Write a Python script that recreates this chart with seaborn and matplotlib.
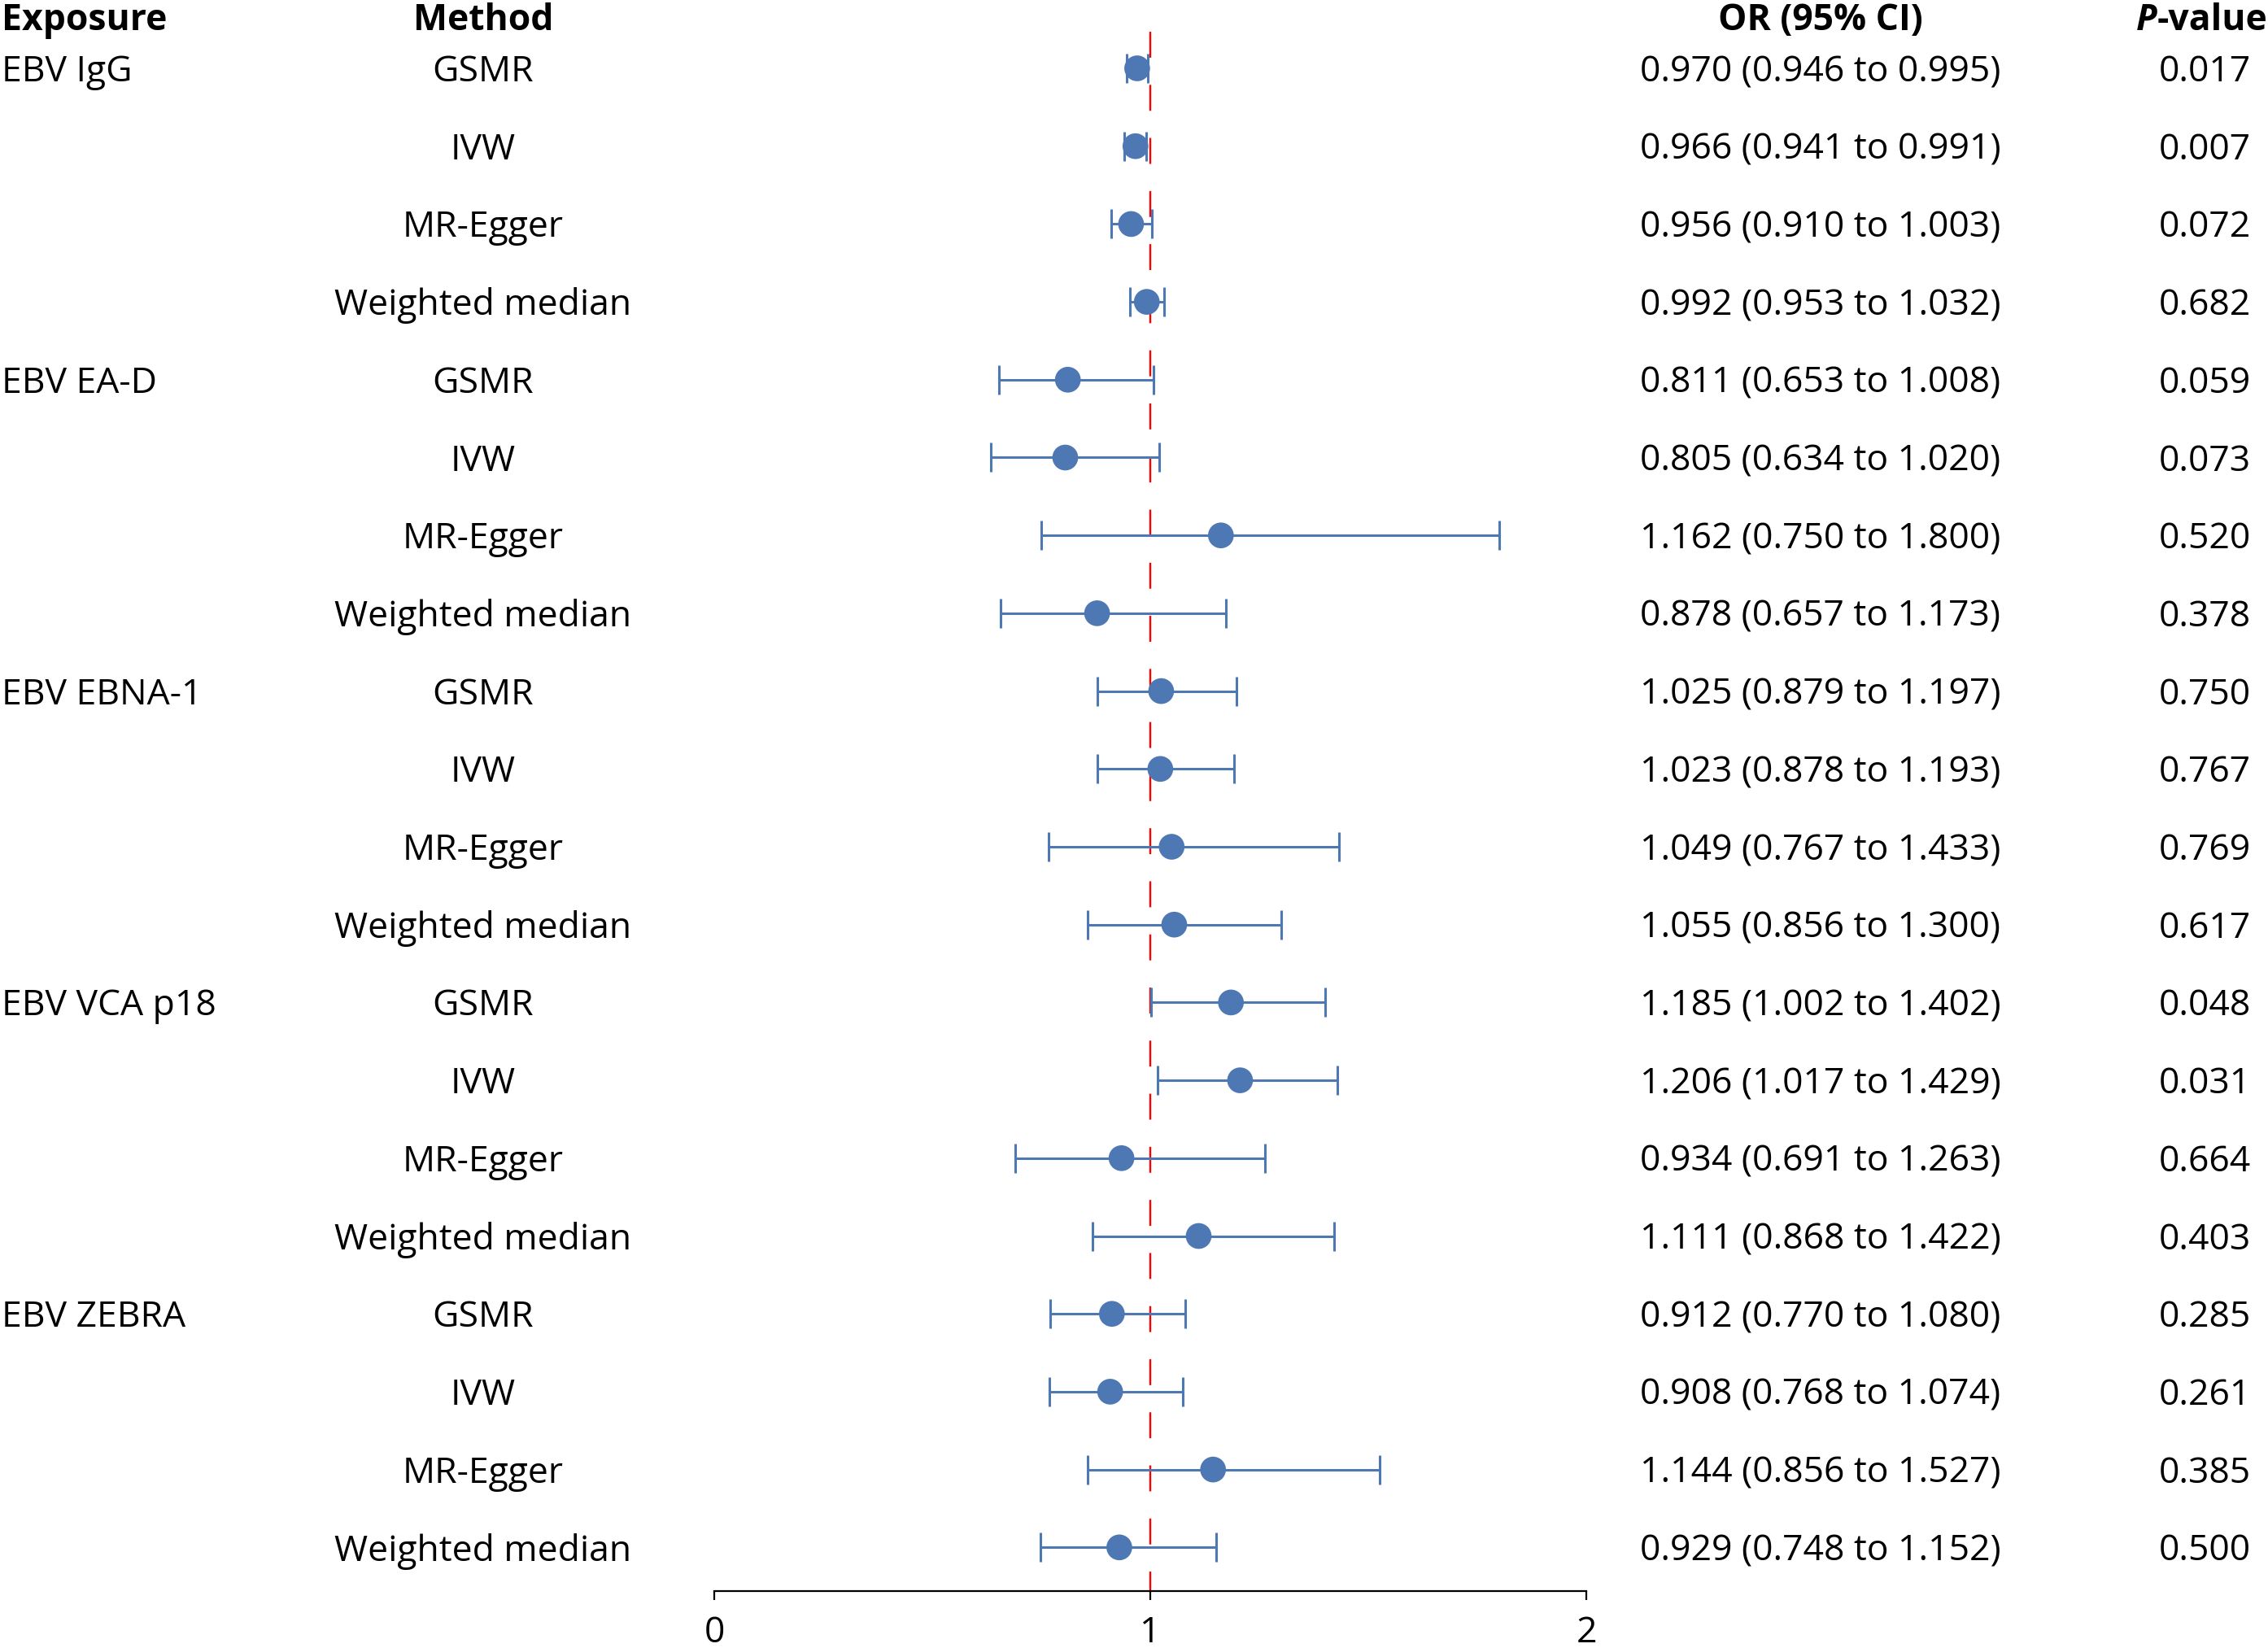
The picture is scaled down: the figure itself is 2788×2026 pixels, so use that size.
"""
Forest plot: EBV antibody exposures, four MR methods, OR (95% CI) and P-values.
"""
import numpy as np
import pandas as pd
import matplotlib
matplotlib.use("Agg")
import matplotlib.pyplot as plt
from matplotlib.transforms import blended_transform_factory
import seaborn as sns

# ──────────────────────────────── 0. Data ──────────────────────────────── #
exposures = ["EBV IgG", "EBV EA-D", "EBV EBNA-1", "EBV VCA p18", "EBV ZEBRA"]
methods   = ["GSMR", "IVW", "MR-Egger", "Weighted median"]

or_vals = [0.970, 0.966, 0.956, 0.992,
           0.811, 0.805, 1.162, 0.878,
           1.025, 1.023, 1.049, 1.055,
           1.185, 1.206, 0.934, 1.111,
           0.912, 0.908, 1.144, 0.929]
ci_low  = [0.946, 0.941, 0.910, 0.953,
           0.653, 0.634, 0.750, 0.657,
           0.879, 0.878, 0.767, 0.856,
           1.002, 1.017, 0.691, 0.868,
           0.770, 0.768, 0.856, 0.748]
ci_high = [0.995, 0.991, 1.003, 1.032,
           1.008, 1.020, 1.800, 1.173,
           1.197, 1.193, 1.433, 1.300,
           1.402, 1.429, 1.263, 1.422,
           1.080, 1.074, 1.527, 1.152]
p_vals  = ["0.017", "0.007", "0.072", "0.682",
           "0.059", "0.073", "0.520", "0.378",
           "0.750", "0.767", "0.769", "0.617",
           "0.048", "0.031", "0.664", "0.403",
           "0.285", "0.261", "0.385", "0.500"]
x_ticks = [0, 1, 2]

df = pd.DataFrame({
    "exposure": np.repeat(exposures, len(methods)),
    "method":   methods * len(exposures),
    "OR": or_vals, "lo": ci_low, "hi": ci_high, "p": p_vals,
})
df["row"] = np.arange(len(df))

# ──────────────────────────────── 1. Style ─────────────────────────────── #
sns.set_theme(style="white")
plt.rcParams["font.family"] = ["Open Sans", "DejaVu Sans"]
plt.rcParams["lines.scale_dashes"] = False
FS    = 32
BLUE  = "#4E78B4"
W, H  = 2788, 2026

fig = plt.figure(figsize=(W / 100, H / 100), dpi=100)
ax_l, ax_r = 878 / W, 1950 / W
axis_px    = 1956                       # pixel y of the x axis line
ax = fig.add_axes([ax_l, 1 - axis_px / H, ax_r - ax_l, axis_px / H])

row0, step = 84, 95.7          # pixel y of first row, row pitch
y_top = -row0 / step
y_bot = (axis_px - row0) / step

# ──────────────────────────────── 2. Marks ─────────────────────────────── #
ax.plot([1, 1], [-0.47, y_bot], color="#FF0000", lw=1.7,
        dashes=(23, 24), zorder=1)

ax.errorbar(df["OR"], df["row"],
            xerr=[df["OR"] - df["lo"], df["hi"] - df["OR"]],
            fmt="none", ecolor=BLUE, elinewidth=2.2, capsize=13,
            capthick=2.2, zorder=2)

sns.scatterplot(data=df, x="OR", y="row", ax=ax, marker="o",
                s=520, color=BLUE, edgecolor="none", zorder=3, legend=False)

ax.set_ylim(y_bot, y_top)
ax.set_xlim(0, 2)

# ──────────────────────────────── 3. Axes ──────────────────────────────── #
for side in ["top", "left", "right"]:
    ax.spines[side].set_visible(False)
ax.spines["bottom"].set_linewidth(1.6)
ax.spines["bottom"].set_color("black")
ax.set_xticks(x_ticks)
ax.set_xticklabels([str(t) for t in x_ticks], fontsize=FS)
ax.tick_params(axis="x", direction="out", length=8, width=1.6,
               color="black", pad=13, bottom=True, labelcolor="black")
ax.set_yticks([])
ax.set_xlabel(""); ax.set_ylabel("")
ax.patch.set_alpha(0)

# ──────────────────────────────── 4. Table text ────────────────────────── #
tr = blended_transform_factory(fig.transFigure, ax.transData)
x_exp, x_meth, x_or, x_p = 2 / W, 594 / W, 2238 / W, 2710 / W
dy = 0.05                                    # nudge text down to row centre
y_head = (21 - row0) / step + dy

kw = dict(transform=tr, fontsize=FS, va="center", clip_on=False, color="black")
ax.text(x_exp,  y_head, "Exposure",    ha="left",   weight="bold", **kw)
ax.text(x_meth, y_head, "Method",      ha="center", weight="bold", **kw)
ax.text(x_or,   y_head, "OR (95% CI)", ha="center", weight="bold", **kw)

# "P-value" with bold-italic P, right edge at the figure edge
t_val = ax.text(1 - 1 / W, y_head, "-value", ha="right", weight="bold", **kw)
fig.canvas.draw()
bb = t_val.get_window_extent()
ax.text(bb.x0 / W, y_head, "P", ha="right", weight="bold", style="italic", **kw)

for _, r in df.iterrows():
    y = r["row"] + dy
    if r["method"] == methods[0]:
        ax.text(x_exp, y, r["exposure"], ha="left", **kw)
    ax.text(x_meth, y, r["method"], ha="center", **kw)
    ax.text(x_or, y, f"{r['OR']:.3f} ({r['lo']:.3f} to {r['hi']:.3f})",
            ha="center", **kw)
    ax.text(x_p, y, r["p"], ha="center", **kw)

fig.savefig("out.png", dpi=100, facecolor="white")
